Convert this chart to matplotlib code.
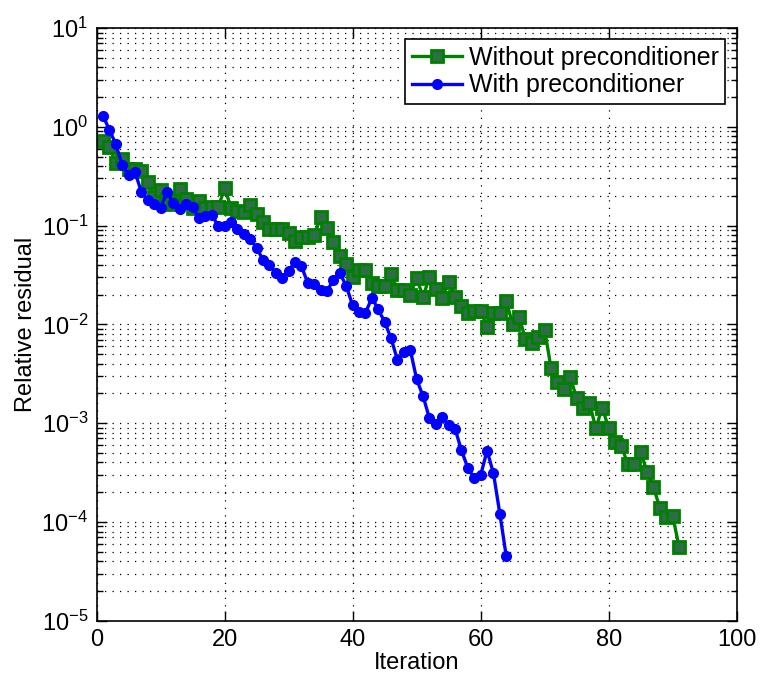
import matplotlib
matplotlib.use('Agg')
import matplotlib.pyplot as plt
from matplotlib.ticker import LogLocator, NullFormatter

plt.rcParams['font.family'] = ['Liberation Sans', 'DejaVu Sans']
plt.rcParams['mathtext.fontset'] = 'custom'
plt.rcParams['mathtext.rm'] = 'Liberation Sans'
plt.rcParams['mathtext.default'] = 'regular'

# residual histories
iters_no_prec = list(range(1, 92))
res_no_prec = [
    0.723, 0.630, 0.428, 0.472, 0.374, 0.377, 0.355, 0.276, 0.196, 0.232,
    0.187, 0.166, 0.233, 0.185, 0.150, 0.177, 0.149, 0.153, 0.153, 0.240,
    0.152, 0.139, 0.136, 0.161, 0.132, 0.109, 0.0925, 0.0925, 0.0925, 0.0832,
    0.0706, 0.0758, 0.0773, 0.0804, 0.121, 0.0940, 0.0687, 0.0492, 0.0413, 0.0305,
    0.0356, 0.0356, 0.0261, 0.0246, 0.0246, 0.0326, 0.0224, 0.0224, 0.0200, 0.0293,
    0.0191, 0.0300, 0.0227, 0.0184, 0.0269, 0.0191, 0.0153, 0.0131, 0.0138, 0.0136,
    0.0095, 0.0129, 0.0129, 0.0171, 0.0101, 0.0120, 0.00706, 0.00648, 0.00740, 0.00883,
    0.00360, 0.00259, 0.00222, 0.00292, 0.00179, 0.00142, 0.00161, 0.000887, 0.00144, 0.000887,
    0.000650, 0.000588, 0.000384, 0.000384, 0.000507, 0.000323, 0.000224, 0.000140, 0.000112, 0.000116,
    0.000056,
]

iters_prec = list(range(1, 65))
res_prec = [
    1.29, 0.93, 0.665, 0.408, 0.327, 0.349, 0.217, 0.182, 0.167, 0.152,
    0.219, 0.168, 0.148, 0.164, 0.154, 0.119, 0.124, 0.128, 0.099, 0.099,
    0.109, 0.0918, 0.0822, 0.0736, 0.0593, 0.0449, 0.0402, 0.0329, 0.0297, 0.0350,
    0.0429, 0.0388, 0.0261, 0.0256, 0.0223, 0.0219, 0.0281, 0.0331, 0.0245, 0.0156,
    0.0135, 0.0130, 0.0186, 0.0142, 0.0106, 0.00724, 0.00436, 0.00522, 0.00555, 0.00278,
    0.00188, 0.00112, 0.00098, 0.00115, 0.00096, 0.00088, 0.00053, 0.000352, 0.000279, 0.000297,
    0.000527, 0.000311, 0.000121, 0.000045,
]

fig = plt.figure(figsize=(7.61, 6.84), dpi=100)
ax = fig.add_axes([0.127, 0.0925, 0.841, 0.8665])

ax.semilogy(iters_no_prec, res_no_prec, '-s', color='#008000', lw=2.4,
            markersize=8.5, markerfacecolor='#2e6e46', markeredgecolor='#008000',
            markeredgewidth=2, label='Without preconditioner')
ax.semilogy(iters_prec, res_prec, '-o', color='#0000ff', lw=2.4,
            markersize=7, label='With preconditioner')

ax.set_xlim(0, 100)
ax.set_ylim(1e-5, 1e1)
ax.set_xticks([0, 20, 40, 60, 80, 100])
ax.yaxis.set_major_locator(LogLocator(base=10, numticks=10))
ax.yaxis.set_minor_locator(LogLocator(base=10, subs=range(2, 10), numticks=20))
ax.yaxis.set_minor_formatter(NullFormatter())

ax.tick_params(which='both', direction='in', top=True, right=True, labelsize=17,
               width=1)
ax.tick_params(which='major', length=7, pad=6)
ax.tick_params(which='minor', length=4)
for s in ax.spines.values():
    s.set_linewidth(1.2)

ax.grid(True, which='major', linestyle=(0, (1, 5)), color='k', lw=0.9)
ax.grid(True, which='minor', axis='y', linestyle=(0, (1, 5)), color='k', lw=0.9)

ax.set_xlabel('Iteration', fontsize=17, labelpad=1)
ax.set_ylabel('Relative residual', fontsize=17, labelpad=3)

leg = ax.legend(loc='upper right', fontsize=18, fancybox=False, framealpha=1,
                edgecolor='k', borderaxespad=0.45, handlelength=2.0,
                handletextpad=0.3, borderpad=0.25, labelspacing=0.15)
leg.get_frame().set_linewidth(1.2)

fig.savefig('out.png', dpi=100)
